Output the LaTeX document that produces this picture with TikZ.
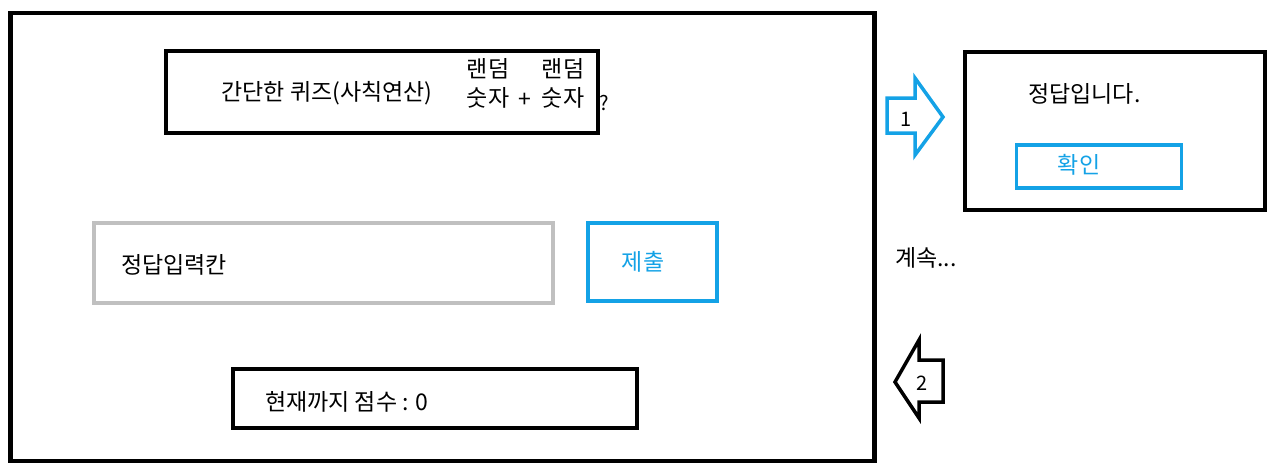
\documentclass[tikz,border=0pt]{standalone}
\usepackage{fontspec}
\setmainfont{Noto Sans CJK KR}
\definecolor{uiblue}{RGB}{20,162,230}
\definecolor{uigray}{RGB}{192,192,192}
\tikzset{
  boxshape/.style={rectangle,inner sep=0pt,outer sep=0pt},
  frame/.style={boxshape,draw=black,line width=4.5pt},
  bbox/.style={boxshape,draw=black,line width=3.5pt},
  graybox/.style={boxshape,draw=uigray,line width=3.5pt},
  bluebox/.style={boxshape,draw=uiblue,line width=3.5pt},
  txt/.style={font=\fontsize{23}{26}\selectfont,inner sep=0pt},
  bluetxt/.style={txt,text=uiblue},
  small/.style={font=\fontsize{20}{24}\selectfont,inner sep=0pt},
}
\begin{document}
\begin{tikzpicture}[x=1pt,y=-1pt]
\useasboundingbox (0,0) rectangle (1277,475);
% main frame
\node[frame,minimum width=864pt,minimum height=448pt] (main) at (442.5,237) {};
% top box
\node[bbox,minimum width=432pt,minimum height=82pt] (quiz) at (382,92) {};
\node[txt] (title) at (327,93) {간단한 퀴즈(사칙연산)};
\node[txt] (r1) at (488,69) {랜덤};
\node[txt] (r2) at (563,69) {랜덤};
\node[txt] (n1) at (488,98) {숫자};
\node[txt] (plus) at (525,100) {+};
\node[txt] (n2) at (563,98) {숫자};
\node[small] (q) at (604,103) {?};
% input
\node[graybox,minimum width=459pt,minimum height=80pt] (inputbox) at (323.5,263) {};
\node[txt,anchor=west] (inp) at (121,265) {정답입력칸};
\node[bluebox,minimum width=129pt,minimum height=78pt] (submit) at (652.5,262) {};
\node[bluetxt] (sub) at (643,262) {제출};
% score
\node[bbox,minimum width=404pt,minimum height=59pt] (scorebox) at (435,398.5) {};
\node[txt,anchor=west] (score) at (265,402) {현재까지 점수 : 0};
% arrow 1
\draw[draw=uiblue,line width=3.5pt,line join=miter]
  (887,98) -- (915,98) -- (915,78) -- (943,117) -- (915,155) -- (915,133) -- (887,133) -- cycle;
\node[small] (a1) at (906,119) {1};
% arrow 2
\draw[draw=black,line width=3.5pt,line join=miter]
  (943,360) -- (919,360) -- (919,340) -- (895,382) -- (919,418) -- (919,402) -- (943,402) -- cycle;
\node[small] (a2) at (922,383) {2};
% continue
\node[txt,anchor=west] (cont) at (895,258) {계속...};
% result box
\node[bbox,minimum width=300pt,minimum height=158pt] (result) at (1115,131) {};
\node[txt,anchor=west] (ok) at (1028,94) {정답입니다.};
\node[bluebox,minimum width=165pt,minimum height=43pt] (confirm) at (1099,166.5) {};
\node[bluetxt] (conf) at (1079,165) {확인};
\end{tikzpicture}
\end{document}
